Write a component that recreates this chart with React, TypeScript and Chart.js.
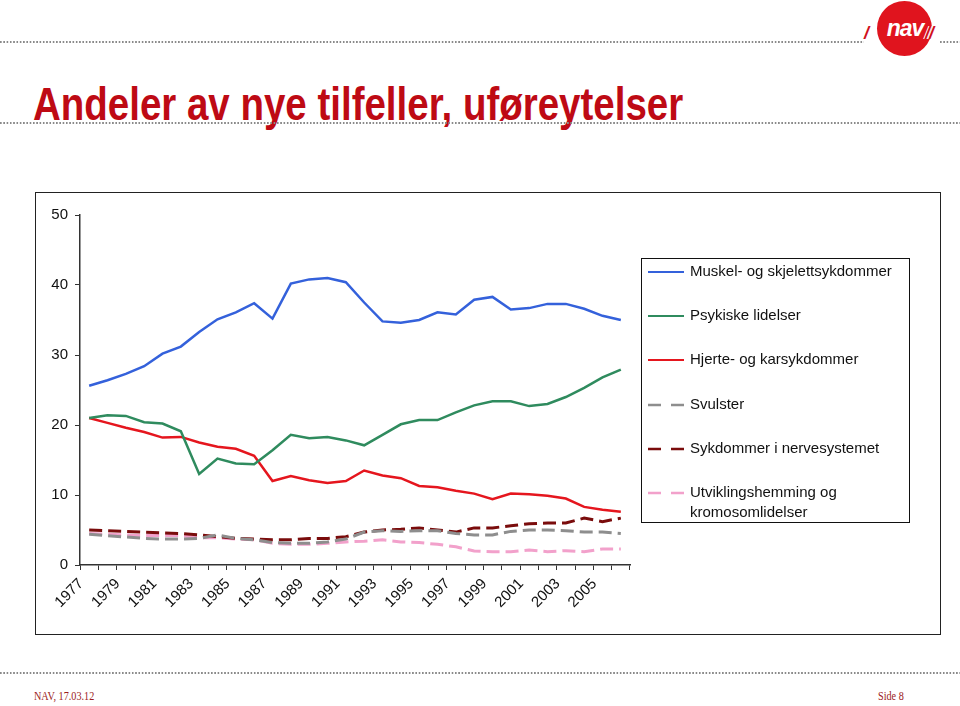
import React, { useEffect, useRef } from "react";
import { Chart, registerables } from "chart.js";

Chart.register(...registerables);

const years = [
  "1977", "1978", "1979", "1980", "1981", "1982", "1983", "1984", "1985", "1986",
  "1987", "1988", "1989", "1990", "1991", "1992", "1993", "1994", "1995", "1996",
  "1997", "1998", "1999", "2000", "2001", "2002", "2003", "2004", "2005", "2006",
];

const muskel = [
  25.6, 26.4, 27.3, 28.4, 30.2, 31.2, 33.3, 35.1, 36.1, 37.4,
  35.2, 40.2, 40.8, 41.0, 40.4, 37.5, 34.8, 34.6, 35.0, 36.1,
  35.8, 37.9, 38.3, 36.5, 36.7, 37.3, 37.3, 36.6, 35.6, 35.0,
];

const psykiske = [
  21.0, 21.4, 21.3, 20.4, 20.2, 19.1, 13.0, 15.2, 14.5, 14.4,
  16.4, 18.6, 18.1, 18.3, 17.8, 17.1, 18.6, 20.1, 20.7, 20.7,
  21.8, 22.8, 23.4, 23.4, 22.7, 23.0, 24.0, 25.3, 26.8, 27.9,
];

const hjerte = [
  21.0, 20.3, 19.6, 19.0, 18.2, 18.3, 17.5, 16.9, 16.6, 15.6,
  12.0, 12.7, 12.1, 11.7, 12.0, 13.5, 12.8, 12.4, 11.3, 11.1,
  10.6, 10.2, 9.4, 10.2, 10.1, 9.9, 9.5, 8.3, 7.9, 7.6,
];

const svulster = [
  4.4, 4.2, 4.0, 3.8, 3.7, 3.7, 3.8, 4.3, 3.8, 3.6,
  3.2, 3.1, 3.1, 3.3, 3.7, 4.7, 4.9, 4.8, 4.9, 4.9,
  4.5, 4.3, 4.3, 4.8, 5.0, 5.0, 4.9, 4.7, 4.7, 4.5,
];

const nerve = [
  5.0, 4.9, 4.8, 4.7, 4.6, 4.5, 4.3, 4.05, 3.8, 3.7,
  3.6, 3.6, 3.8, 3.8, 4.05, 4.7, 5.0, 5.1, 5.3, 5.0,
  4.7, 5.3, 5.3, 5.6, 5.9, 6.0, 6.0, 6.7, 6.2, 6.7,
];

const utvikling = [
  4.5, 4.4, 4.3, 4.2, 4.2, 4.2, 3.9, 3.9, 3.7, 3.6,
  3.1, 2.95, 2.95, 3.1, 3.3, 3.4, 3.6, 3.3, 3.2, 2.95,
  2.6, 2.0, 1.9, 1.9, 2.15, 1.9, 2.05, 1.9, 2.3, 2.3,
];

const legendLines = [
  ["Muskel- og skjelettsykdommer"],
  ["Psykiske lidelser"],
  ["Hjerte- og karsykdommer"],
  ["Svulster"],
  ["Sykdommer i nervesystemet"],
  ["Utviklingshemming og", "kromosomlidelser"],
];

const yTicks = [0, 10, 20, 30, 40, 50];

const FONT = '"Liberation Sans", Arial, Helvetica, sans-serif';

const boxLegend = {
  id: "boxLegend",
  afterDraw(chart: any) {
    const ctx = chart.ctx as CanvasRenderingContext2D;
    const bx = 605, by = 65, bw = 268, bh = 264;
    const rowY = [79, 123, 167, 212, 256, 300];
    ctx.save();
    ctx.strokeStyle = "#111";
    ctx.lineWidth = 1;
    ctx.setLineDash([]);
    ctx.strokeRect(bx + 0.5, by + 0.5, bw, bh);
    ctx.font = "15px " + FONT;
    ctx.textBaseline = "middle";
    ctx.fillStyle = "#111";
    chart.data.datasets.forEach((ds: any, i: number) => {
      const y = rowY[i];
      ctx.strokeStyle = ds.borderColor;
      ctx.lineWidth = ds.borderDash && ds.borderDash.length ? 2.5 : 2;
      ctx.setLineDash(ds.borderDash && ds.borderDash.length ? [13, 10] : []);
      ctx.beginPath();
      ctx.moveTo(612, y);
      ctx.lineTo(648, y);
      ctx.stroke();
      ctx.setLineDash([]);
      legendLines[i].forEach((line, k) => {
        ctx.fillText(line, 654, y + k * 20);
      });
    });
    ctx.restore();
  },
};

const dotted: React.CSSProperties = {
  position: "absolute",
  height: 2,
  backgroundImage: "linear-gradient(to right, #8a8a8a 0px, #8a8a8a 1.6px, transparent 1.6px)",
  backgroundSize: "3.3px 2px",
  backgroundRepeat: "repeat-x",
};

const slash: React.CSSProperties = {
  position: "absolute",
  color: "#D0101C",
  fontWeight: 700,
  fontStyle: "italic",
  fontSize: 18,
  lineHeight: "18px",
  letterSpacing: -1,
  textShadow: "1px 0 0 #fff, -1px 0 0 #fff",
  zIndex: 2,
};

export default function App() {
  const canvasRef = useRef<HTMLCanvasElement>(null);
  const titleRef = useRef<HTMLSpanElement>(null);

  useEffect(() => {
    const t = titleRef.current;
    if (t) {
      const w = t.offsetWidth;
      if (w > 0) t.style.transform = `scaleX(${650 / w})`;
    }
    const canvas = canvasRef.current;
    if (!canvas) return;
    const solid = (label: string, data: number[], color: string) => ({
      label, data, borderColor: color, backgroundColor: color, borderWidth: 2.5,
      pointRadius: 0, tension: 0, fill: false, borderDash: [] as number[],
    });
    const dashed = (label: string, data: number[], color: string) => ({
      label, data, borderColor: color, backgroundColor: color, borderWidth: 3,
      pointRadius: 0, tension: 0, fill: false, borderDash: [13, 6],
    });
    const chart = new Chart(canvas, {
      type: "line",
      data: {
        labels: years,
        datasets: [
          solid(legendLines[0].join(" "), muskel, "#3461DB"),
          solid(legendLines[1].join(" "), psykiske, "#2F8B5E"),
          solid(legendLines[2].join(" "), hjerte, "#E5161E"),
          dashed(legendLines[3].join(" "), svulster, "#8E8E8E"),
          dashed(legendLines[4].join(" "), nerve, "#7A0C0C"),
          dashed(legendLines[5].join(" "), utvikling, "#F2A1CB"),
        ],
      },
      options: {
        animation: false,
        responsive: false,
        maintainAspectRatio: false,
        layout: { padding: { top: 22, right: 310, left: 0, bottom: 0 } },
        plugins: { legend: { display: false }, tooltip: { enabled: false } },
        scales: {
          x: {
            type: "category",
            offset: true,
            afterFit: (s: any) => { s.height = 69; },
            grid: { display: true, offset: true, drawOnChartArea: false, tickLength: 5, color: "#333", tickWidth: 1 },
            border: { display: true, color: "#333", width: 1.5 },
            ticks: {
              autoSkip: false,
              maxRotation: 45,
              minRotation: 45,
              labelOffset: -8,
              padding: 5,
              color: "#111",
              font: { family: FONT, size: 15 },
              callback: (_v: any, i: number) => (i % 2 === 0 ? years[i] : ""),
            },
          },
          y: {
            min: 0,
            max: 50,
            afterFit: (s: any) => { s.width = 44; },
            afterBuildTicks: (s: any) => { s.ticks = yTicks.map((v) => ({ value: v })); },
            grid: { display: true, drawOnChartArea: false, tickLength: 5, color: "#333", tickWidth: 1 },
            border: { display: true, color: "#333", width: 1.5 },
            ticks: {
              padding: 7,
              color: "#111",
              font: { family: FONT, size: 15 },
            },
          },
        },
      },
      plugins: [boxLegend],
    } as any);
    return () => chart.destroy();
  }, []);

  return (
    <div style={{ position: "fixed", left: 0, top: 0, width: 960, height: 706, background: "#fff", overflow: "hidden", fontFamily: FONT }}>
      <div style={{ ...dotted, left: 0, top: 41, width: 864 }} />
      <div style={{ ...dotted, left: 940, top: 41, width: 20 }} />
      <div style={{ position: "absolute", left: 877, top: 1, width: 55, height: 55, borderRadius: "50%", background: "#E0141E" }} />
      <div style={{ position: "absolute", left: 880, top: 15, width: 50, textAlign: "center", color: "#fff", fontWeight: 700, fontStyle: "italic", fontSize: 23, lineHeight: "26px", letterSpacing: -1 }}>nav</div>
      <div style={{ ...slash, left: 864, top: 24 }}>/</div>
      <div style={{ ...slash, left: 925, top: 24 }}>//</div>

      <div style={{ position: "absolute", left: 33, top: 78, whiteSpace: "nowrap" }}>
        <span ref={titleRef} style={{ display: "inline-block", transformOrigin: "0 0", color: "#BE0A14", fontWeight: 700, fontSize: 46, lineHeight: "52px", fontFamily: '"Liberation Sans Narrow", "Liberation Sans", Arial, sans-serif' }}>
          Andeler av nye tilfeller, uføreytelser
        </span>
      </div>
      <div style={{ ...dotted, left: 0, top: 122, width: 960 }} />

      <div style={{ position: "absolute", left: 35, top: 192, width: 906, height: 443, border: "1px solid #222", boxSizing: "border-box" }}>
        <canvas ref={canvasRef} width={904} height={441} style={{ position: "absolute", left: 0, top: 0, width: 904, height: 441 }} />
      </div>

      <div style={{ ...dotted, left: 0, top: 672, width: 960 }} />
      <div style={{ position: "absolute", left: 34, top: 689, color: "#9B1B1B", fontFamily: '"Liberation Serif", "Times New Roman", serif', fontSize: 12, transform: "scaleX(0.85)", transformOrigin: "0 0" }}>NAV, 17.03.12</div>
      <div style={{ position: "absolute", left: 878, top: 689, color: "#9B1B1B", fontFamily: '"Liberation Serif", "Times New Roman", serif', fontSize: 12, transform: "scaleX(0.85)", transformOrigin: "0 0" }}>Side 8</div>
    </div>
  );
}
